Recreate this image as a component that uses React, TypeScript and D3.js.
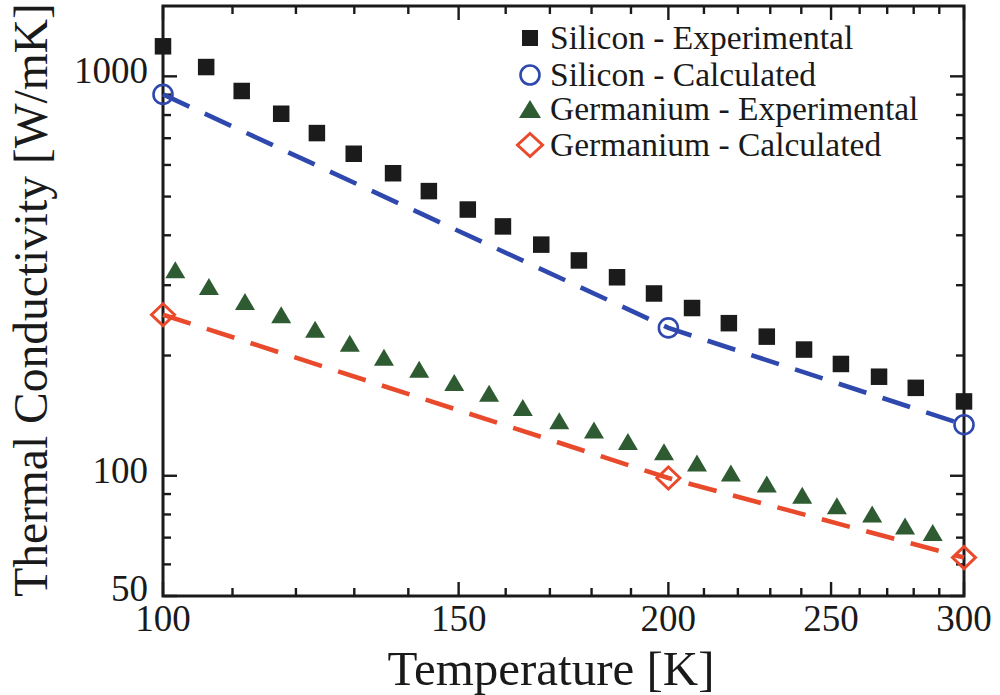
import React from "react";
import * as d3 from "d3";

// ---- data ----
const siExpT = [100, 106.1, 111.4, 117.6, 123.5, 129.9, 137.1, 144.0, 151.9, 159.4, 168.0, 176.9, 186.4, 196.1, 206.6, 217.3, 228.9, 240.9, 253.4, 267.0, 280.8, 300];
const siExpK = [1189, 1055, 919, 806, 721, 640, 572, 516, 464, 421, 379, 346, 314, 286, 263, 241, 223, 207, 190.5, 177, 166, 153.5];

const geExpT = [101.7, 106.5, 111.9, 117.6, 123.2, 129.2, 135.4, 142.1, 149.1, 156.4, 163.8, 172.2, 180.6, 189.2, 198.8, 208.0, 217.9, 228.9, 240.3, 252.0, 264.5, 276.7, 287.4];
const geExpK = [328, 297.7, 273, 253, 232.6, 214.6, 198, 184.9, 171.3, 160.8, 148.3, 137.3, 130.2, 121.9, 114.9, 107.7, 101.6, 95.3, 89.4, 84.1, 80.2, 74.9, 72.1];

const calcT = [100, 200, 300];
const siCalcK = [901, 234.5, 134.2];
const geCalcK = [253, 98.7, 62.4];

const xMajorTicks = [100, 150, 200, 250, 300];
const xMinorTicks = [110, 120, 130, 140, 160, 170, 180, 190, 210, 220, 230, 240, 260, 270, 280, 290];
const yMajorTicks = [50, 100, 1000];
const yMinorTicks = [60, 70, 80, 90, 200, 300, 400, 500, 600, 700, 800, 900];

const legendLabels = [
  "Silicon - Experimental",
  "Silicon - Calculated",
  "Germanium - Experimental",
  "Germanium - Calculated",
];

const BLACK = "#1b1b1b";
const BLUE = "#2f48ad";
const GREEN = "#2e5b31";
const RED = "#ea4a2c";
const FONT = "'Liberation Serif', 'Times New Roman', serif";

const W = 1000;
const H = 695;
const L = 163, R = 964, T = 6, B = 596;

export default function App() {
  const x = d3.scaleLog().domain([100, 300]).range([L, R]);
  const y = d3.scaleLog().domain([50, 1500]).range([B, T]);

  const line = d3
    .line<[number, number]>()
    .x((d) => x(d[0]))
    .y((d) => y(d[1]));

  const siLine = line(calcT.map((t, i) => [t, siCalcK[i]] as [number, number])) || "";
  const geLine = line(calcT.map((t, i) => [t, geCalcK[i]] as [number, number])) || "";

  const square = (cx: number, cy: number, s: number, key: any) => (
    <rect key={key} x={cx - s / 2} y={cy - s / 2} width={s} height={s} fill={BLACK} />
  );
  const circle = (cx: number, cy: number, r: number, key: any) => (
    <circle key={key} cx={cx} cy={cy} r={r} fill="none" stroke={BLUE} strokeWidth={2.6} />
  );
  const triangle = (cx: number, cy: number, w: number, h: number, key: any) => (
    <path
      key={key}
      d={`M${cx},${cy - h / 2}L${cx + w / 2},${cy + h / 2}L${cx - w / 2},${cy + h / 2}Z`}
      fill={GREEN}
    />
  );
  const diamond = (cx: number, cy: number, hw: number, hh: number, key: any) => (
    <path
      key={key}
      d={`M${cx},${cy - hh}L${cx + hw},${cy}L${cx},${cy + hh}L${cx - hw},${cy}Z`}
      fill="none"
      stroke={RED}
      strokeWidth={3}
    />
  );

  const majLen = 14;
  const minLen = 8;

  const legendY = [38, 75, 109, 145];
  const legendX = 530;

  return (
    <svg
      width={W}
      height={H}
      style={{ position: "absolute", left: 0, top: 0, background: "#fff" }}
      fontFamily={FONT}
    >
      <rect x={0} y={0} width={W} height={H} fill="#fff" />

      {/* ticks */}
      <g stroke="#1a1a1a" strokeWidth={2.4}>
        {xMajorTicks.map((t) => (
          <g key={"xM" + t}>
            <line x1={x(t)} x2={x(t)} y1={B} y2={B - majLen} />
            <line x1={x(t)} x2={x(t)} y1={T} y2={T + majLen} />
          </g>
        ))}
        {xMinorTicks.map((t) => (
          <g key={"xm" + t}>
            <line x1={x(t)} x2={x(t)} y1={B} y2={B - minLen} />
            <line x1={x(t)} x2={x(t)} y1={T} y2={T + minLen} />
          </g>
        ))}
        {yMajorTicks.map((t) => (
          <g key={"yM" + t}>
            <line x1={L} x2={L + majLen} y1={y(t)} y2={y(t)} />
            <line x1={R} x2={R - majLen} y1={y(t)} y2={y(t)} />
          </g>
        ))}
        {yMinorTicks.map((t) => (
          <g key={"ym" + t}>
            <line x1={L} x2={L + minLen} y1={y(t)} y2={y(t)} />
            <line x1={R} x2={R - minLen} y1={y(t)} y2={y(t)} />
          </g>
        ))}
      </g>

      {/* frame */}
      <rect x={L} y={T} width={R - L} height={B - T} fill="none" stroke="#1a1a1a" strokeWidth={3} />

      {/* tick labels */}
      <g fontSize={37} fill="#1a1a1a">
        {xMajorTicks.map((t) => (
          <text key={"xl" + t} x={x(t)} y={631} textAnchor="middle">
            {t}
          </text>
        ))}
        {yMajorTicks.map((t) => (
          <text key={"yl" + t} x={148} y={y(t) + (t === 50 ? 5 : 7)} textAnchor="end">
            {t}
          </text>
        ))}
      </g>

      {/* axis titles */}
      <text x={551} y={685} textAnchor="middle" fontSize={49} fill="#1a1a1a">
        Temperature [K]
      </text>
      <text
        transform={`translate(47, ${300}) rotate(-90)`}
        textAnchor="middle"
        fontSize={47.5}
        fill="#1a1a1a"
      >
        Thermal Conductivity [W/mK]
      </text>

      {/* calculated lines */}
      <path d={siLine} fill="none" stroke={BLUE} strokeWidth={4.6} strokeDasharray="29 17" />
      <path d={geLine} fill="none" stroke={RED} strokeWidth={4.6} strokeDasharray="29 17" />

      {/* experimental markers */}
      {siExpT.map((t, i) => square(x(t), y(siExpK[i]), 16.5, "sq" + i))}
      {geExpT.map((t, i) => triangle(x(t), y(geExpK[i]), 20, 17, "tr" + i))}

      {/* calculated markers */}
      {calcT.map((t, i) => circle(x(t), y(siCalcK[i]), 9.5, "ci" + i))}
      {calcT.map((t, i) => diamond(x(t), y(geCalcK[i]), 11.5, 11, "di" + i))}

      {/* legend */}
      {square(legendX, legendY[0], 16, "lg0")}
      {circle(legendX, legendY[1], 9.5, "lg1")}
      {triangle(legendX, legendY[2], 22, 18, "lg2")}
      {diamond(legendX, legendY[3], 12.5, 11.5, "lg3")}
      <g fontSize={33.5} fill="#1a1a1a">
        {legendLabels.map((s, i) => (
          <text key={"lt" + i} x={550} y={legendY[i] + 11}>
            {s}
          </text>
        ))}
      </g>
    </svg>
  );
}
